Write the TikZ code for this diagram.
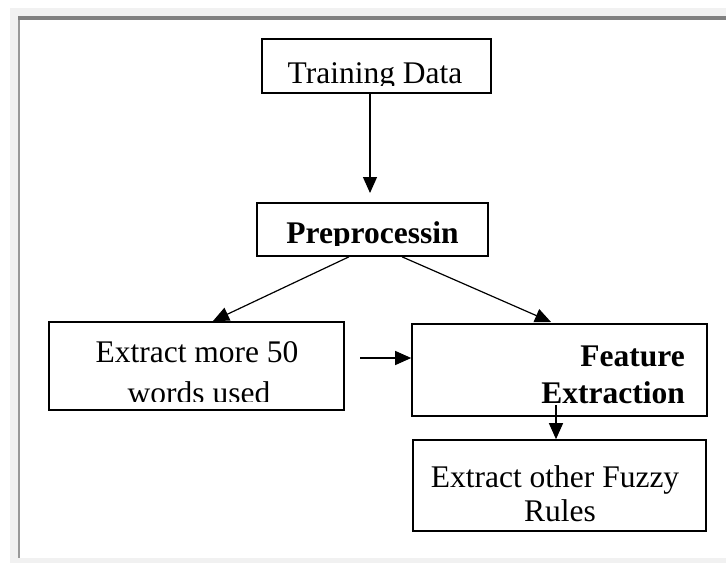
\documentclass[tikz,border=0pt]{standalone}
\usepackage{fontspec}
\setmainfont{Liberation Serif}
\usetikzlibrary{arrows.meta}
\definecolor{framelight}{HTML}{F1F1F1}
\definecolor{framedark}{HTML}{808080}
\definecolor{frameleft}{HTML}{999999}
\begin{document}
\begin{tikzpicture}[x=1pt,y=-1pt,
  box/.style={draw,line width=1.6pt,inner sep=0pt},
  lbl/.style={inner sep=0pt,anchor=base,font=\fontsize{31.5}{36}\selectfont},
  blbl/.style={lbl,font=\fontsize{31.5}{36}\selectfont\bfseries},
  arr/.style={line width=1.2pt,-{Triangle[length=16pt,width=14pt]}}]
\useasboundingbox (0,0) rectangle (726,563);
\fill[white] (0,0) rectangle (726,563);
\fill[framelight] (10,8) rectangle (726,563);
\fill[white] (20,20) rectangle (726,558);
\fill[framedark] (18,16) rectangle (726,20);
\fill[frameleft] (18,20) rectangle (20,558);

% boxes
\node[box,minimum width=229pt,minimum height=54pt] (train) at (376.5,66) {};
\node[box,minimum width=231pt,minimum height=53pt] (prep) at (372.5,229.5) {};
\node[box,minimum width=295pt,minimum height=88pt] (words) at (196.5,366) {};
\node[box,minimum width=295pt,minimum height=92pt] (feat) at (559.5,370) {};
\node[box,minimum width=293pt,minimum height=91pt] (fuzzy) at (559.5,485.5) {};

% texts (clipped like the original)
\begin{scope}
\clip (262,40) rectangle (491,85);
\node[lbl] (ttrain) at (375,83) {Training Data};
\end{scope}
\begin{scope}
\clip (257,204) rectangle (488,245);
\node[blbl] (tprep) at (372.5,243) {Preprocessin};
\end{scope}
\node[lbl] (tw1) at (197,362) {Extract more 50};
\begin{scope}
\clip (49,370) rectangle (344,401.5);
\node[lbl] (tw2) at (199,403) {words used};
\end{scope}
\node[blbl,anchor=base east] (tf1) at (685,366) {Feature};
\node[blbl,anchor=base east] (tf2) at (685,403) {Extraction};
\node[lbl] (tz1) at (555,487) {Extract other Fuzzy};
\node[lbl] (tz2) at (560,521) {Rules};

% connectors
\coordinate (a1) at (370,193);
\draw[arr] (train.south -| a1) -- (a1);
\coordinate (sl) at (349,256);
\coordinate (el) at (213,321);
\draw[arr] (prep.south -| sl) -- (el);
\coordinate (sr) at (402,256);
\coordinate (er) at (551,322);
\draw[arr] (prep.south -| sr) -- (er);
\coordinate (h0) at (360,358);
\draw[arr] (h0) -- (h0 -| feat.west);
\coordinate (d0) at (556,405);
\draw[arr] (d0) -- (d0 |- fuzzy.north);
\end{tikzpicture}
\end{document}
